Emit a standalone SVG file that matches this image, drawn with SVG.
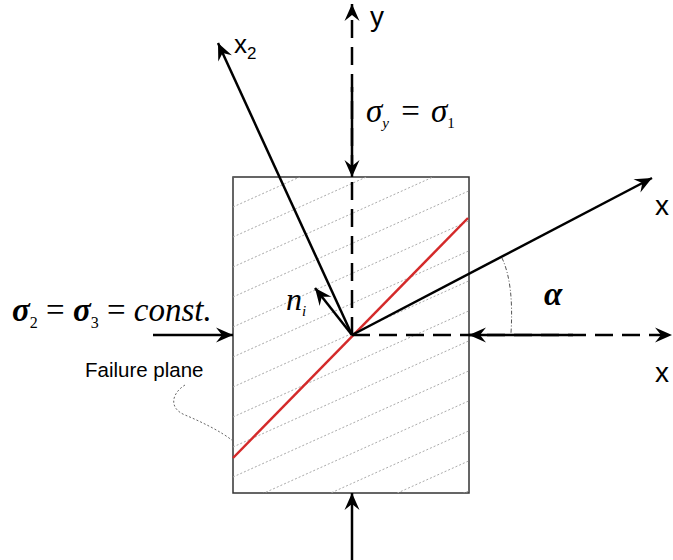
<svg xmlns="http://www.w3.org/2000/svg" width="673" height="560" viewBox="0 0 673 560">
<style>
.ax{stroke:#000;stroke-width:2.5;fill:none}
.dash{stroke-dasharray:18 9}
.hatch{stroke:#aaa;stroke-width:1;stroke-dasharray:2 2;fill:none}
.ser{font-family:"Liberation Serif",serif;fill:#000}
.sans{font-family:"Liberation Sans",Arial,sans-serif;fill:#000}
</style>
<defs>
<marker id="ah" markerUnits="userSpaceOnUse" markerWidth="20" markerHeight="16" viewBox="-17 -8 19 16" refX="0" refY="0" orient="auto">
<path d="M0,0 L-17,-7.5 L-11,0 L-17,7.5 z" fill="#000"/>
</marker>
<clipPath id="rc"><rect x="233" y="177" width="236" height="316"/></clipPath>
</defs>

<g id="specimen">
<rect x="233" y="177" width="236" height="316" fill="#fff" stroke="#333" stroke-width="1.5"/>
<g clip-path="url(#rc)" class="hatch">
<line x1="233" y1="177" x2="469" y2="70.8"/>
<line x1="233" y1="207" x2="469" y2="100.8"/>
<line x1="233" y1="237" x2="469" y2="130.8"/>
<line x1="233" y1="267" x2="469" y2="160.8"/>
<line x1="233" y1="297" x2="469" y2="190.8"/>
<line x1="233" y1="327" x2="469" y2="220.8"/>
<line x1="233" y1="357" x2="469" y2="250.8"/>
<line x1="233" y1="387" x2="469" y2="280.8"/>
<line x1="233" y1="417" x2="469" y2="310.8"/>
<line x1="233" y1="447" x2="469" y2="340.8"/>
<line x1="233" y1="477" x2="469" y2="370.8"/>
<line x1="233" y1="507" x2="469" y2="400.8"/>
<line x1="233" y1="537" x2="469" y2="430.8"/>
<line x1="233" y1="567" x2="469" y2="460.8"/>
<line x1="233" y1="597" x2="469" y2="490.8"/>
<line x1="233" y1="627" x2="469" y2="520.8"/>
</g>
</g>

<g id="failure-plane">
<line x1="233" y1="458" x2="468" y2="218" stroke="#d42a2a" stroke-width="2.5"/>
</g>

<g id="connectors">
<line class="ax dash" x1="352" y1="335" x2="352" y2="4" marker-end="url(#ah)"/>
<line class="ax dash" x1="352" y1="335" x2="672" y2="335" marker-end="url(#ah)"/>
<line class="ax" x1="352" y1="87" x2="352" y2="177" marker-end="url(#ah)"/>
<line class="ax" x1="352" y1="560" x2="352" y2="493" marker-end="url(#ah)"/>
<line class="ax" x1="153" y1="335" x2="233" y2="335" marker-end="url(#ah)"/>
<line class="ax" x1="573" y1="335" x2="469" y2="335" marker-end="url(#ah)"/>
<line class="ax" x1="352" y1="335" x2="652" y2="178" marker-end="url(#ah)"/>
<line class="ax" x1="352" y1="335" x2="218" y2="43" marker-end="url(#ah)"/>
<line class="ax" x1="352" y1="335" x2="315" y2="288" marker-end="url(#ah)"/>
<path d="M502,258 C510,275 513,300 511,333" fill="none" stroke="#555" stroke-width="1" stroke-dasharray="4 2 1 2"/>
<path d="M185,385 C172,393 168,408 185,415 S222,432 233,441" fill="none" stroke="#666" stroke-width="1" stroke-dasharray="2 2"/>
</g>

<g id="labels">
<text class="sans" x="370" y="26" font-size="28">y</text>
<text class="sans" x="234" y="53" font-size="26">x<tspan font-size="17" dy="6">2</tspan></text>
<text class="sans" x="655" y="215" font-size="28">x</text>
<text class="sans" x="655" y="382" font-size="28">x</text>
<text class="ser" x="366" y="122" font-size="33" font-style="italic">σ<tspan font-size="15" dy="6">y</tspan><tspan dy="-6" dx="4" font-style="normal"> = </tspan><tspan dx="3">σ</tspan><tspan font-size="15" dy="6" font-style="normal">1</tspan></text>
<text class="ser" x="12" y="321" font-size="33"><tspan font-style="italic" font-weight="bold">σ</tspan><tspan font-size="16" dy="7">2</tspan><tspan dy="-7"> = </tspan><tspan font-style="italic" font-weight="bold">σ</tspan><tspan font-size="16" dy="7">3</tspan><tspan dy="-7"> = </tspan><tspan font-style="italic">const.</tspan></text>
<text class="ser" x="286" y="310" font-size="32" font-style="italic">n<tspan font-size="15" dy="6">i</tspan></text>
<text class="ser" x="544" y="305" font-size="33" font-style="italic" font-weight="bold">α</text>
<text class="sans" x="85" y="377" font-size="20.5">Failure plane</text>
</g>
</svg>
